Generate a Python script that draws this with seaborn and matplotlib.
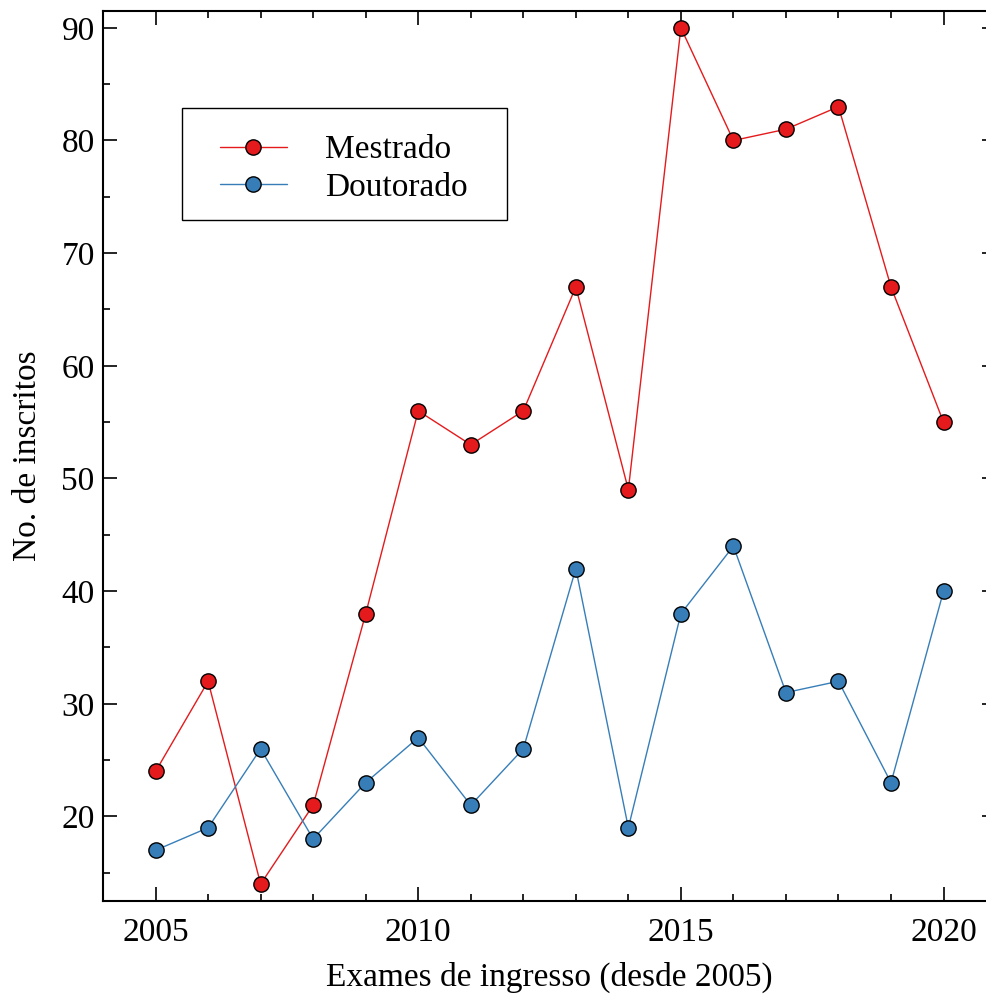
import pandas as pd
import seaborn as sns
import matplotlib.pyplot as plt
from matplotlib.patches import Rectangle
from matplotlib.ticker import MultipleLocator

anos = list(range(2005, 2021))
mestrado = [24, 32, 14, 21, 38, 56, 53, 56, 67, 49, 90, 80, 81, 83, 67, 55]
doutorado = [17, 19, 26, 18, 23, 27, 21, 26, 42, 19, 38, 44, 31, 32, 23, 40]

sns.set_style('ticks')
plt.rcParams['font.family'] = ['Liberation Serif', 'DejaVu Serif']
for k in ['text.color', 'axes.labelcolor', 'xtick.color', 'ytick.color']:
    plt.rcParams[k] = 'black'

fig = plt.figure(figsize=(9.87, 9.94), dpi=100)
ax = fig.add_axes([0.1044, 0.0936, 0.9048, 0.8954])

df = pd.DataFrame({'ano': anos, 'Mestrado': mestrado, 'Doutorado': doutorado})

sns.lineplot(data=df, x='ano', y='Mestrado', ax=ax, color='#e41a1c', lw=1,
             marker='o', markersize=11, markeredgecolor='black',
             markeredgewidth=1, label='Mestrado')
sns.lineplot(data=df, x='ano', y='Doutorado', ax=ax, color='#377eb8', lw=1,
             marker='o', markersize=11, markeredgecolor='black',
             markeredgewidth=1, label='Doutorado')

ax.set_xlim(2004, 2021)
ax.set_ylim(12.5, 91.5)
ax.xaxis.set_major_locator(MultipleLocator(5))
ax.xaxis.set_minor_locator(MultipleLocator(1))
ax.yaxis.set_major_locator(MultipleLocator(10))
ax.yaxis.set_minor_locator(MultipleLocator(5))
ax.tick_params(which='both', direction='in', top=True, right=True,
               width=1.2, color='black', labelsize=24)
ax.tick_params(axis='x', which='both', pad=12)
ax.tick_params(axis='y', which='both', pad=6)
ax.tick_params(which='major', length=10)
ax.tick_params(which='minor', length=5)
for s in ax.spines.values():
    s.set_linewidth(1.5)
    s.set_color('black')

ax.set_xlabel('Exames de ingresso (desde 2005)', fontsize=24, labelpad=10)
ax.set_ylabel('No. de inscritos', fontsize=24, labelpad=13)

ax.legend(loc='upper left', bbox_to_anchor=(0.131, 0.8607), fontsize=24,
          frameon=False, handlelength=2.0, handletextpad=1.15,
          labelspacing=0.2, borderpad=0, borderaxespad=0)
ax.add_patch(Rectangle((0.0885, 0.7652), 0.364, 0.1258, transform=ax.transAxes,
                       fill=False, edgecolor='black', lw=1, zorder=5))

fig.savefig('out.png', dpi=100)
